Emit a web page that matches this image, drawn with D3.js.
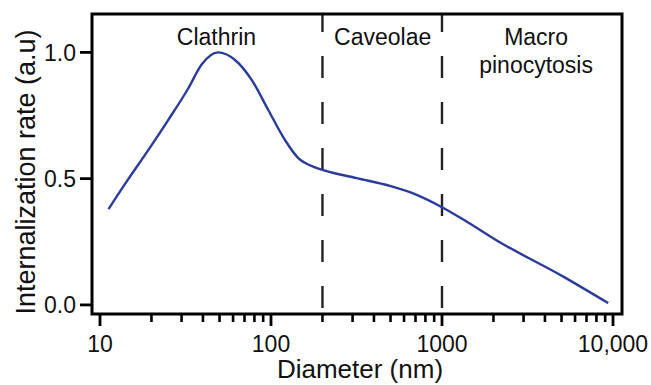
<!DOCTYPE html>
<html>
<head>
<meta charset="utf-8">
<script src="https://cdn.jsdelivr.net/npm/d3@7/dist/d3.min.js"></script>
<style>
  html, body { margin: 0; padding: 0; background: #ffffff; }
  svg { display: block; }
  text { font-family: "Liberation Sans", Arial, Helvetica, sans-serif; fill: #111; }
</style>
</head>
<body>
<svg id="chart" width="651" height="385"></svg>
<script>
// ---- data ----
const diameters = [11.2, 14.6, 19.2, 25.1, 32.8, 39.3, 49, 61.6, 77.1, 96.4, 120.7, 144.5, 180.8, 202, 317, 496, 711, 1000, 1333, 2090, 5120, 9380];
const rates     = [0.379, 0.497, 0.614, 0.733, 0.857, 0.952, 1.0, 0.970, 0.891, 0.772, 0.653, 0.581, 0.545, 0.534, 0.502, 0.471, 0.436, 0.387, 0.338, 0.255, 0.112, 0.007];
const boundaries = [200, 1000];
const regionLabels = [["Clathrin"], ["Caveolae"], ["Macro", "pinocytosis"]];
const regionCenters = [48, 450, 3550];
const xTickValues = [10, 100, 1000, 10000];
const xTickLabels = ["10", "100", "1000", "10,000"];
const yTickValues = [0, 0.5, 1.0];
const yTickLabels = ["0.0", "0.5", "1.0"];
const xTitle = "Diameter (nm)";
const yTitle = "Internalization rate (a.u)";

// ---- layout ----
const svg = d3.select("#chart");
const L = 92, R = 622, T = 14, B = 314;

const x = d3.scaleLog().domain([8.98, 11290]).range([L, R]);
const y = d3.scaleLinear().domain([-0.036, 1.152]).range([B, T]);

// dashed boundaries
svg.selectAll("line.bound").data(boundaries).enter().append("line")
  .attr("class", "bound")
  .attr("x1", d => x(d)).attr("x2", d => x(d))
  .attr("y1", B - 6).attr("y2", T)
  .attr("stroke", "#222").attr("stroke-width", 2.4)
  .attr("stroke-dasharray", "22,24");

// curve
const pts = diameters.map((d, i) => [d, rates[i]]);
const line = d3.line().x(d => x(d[0])).y(d => y(d[1])).curve(d3.curveMonotoneX);
svg.append("path").datum(pts)
  .attr("d", line)
  .attr("fill", "none")
  .attr("stroke", "#2b3b9b")
  .attr("stroke-width", 2.4)
  .attr("stroke-linejoin", "round");

// frame
svg.append("rect")
  .attr("x", L).attr("y", T).attr("width", R - L).attr("height", B - T)
  .attr("fill", "none").attr("stroke", "#000").attr("stroke-width", 3);

// x axis
const minorTicks = [];
[10, 100, 1000].forEach(dec => { for (let k = 2; k <= 9; k++) minorTicks.push(dec * k); });
const xAxisG = svg.append("g").attr("transform", `translate(0,${B})`);
xAxisG.selectAll("line.minor").data(minorTicks).enter().append("line")
  .attr("x1", d => x(d)).attr("x2", d => x(d))
  .attr("y1", 0).attr("y2", 8)
  .attr("stroke", "#000").attr("stroke-width", 2.6);
xAxisG.selectAll("line.major").data(xTickValues).enter().append("line")
  .attr("x1", d => x(d)).attr("x2", d => x(d))
  .attr("y1", 0).attr("y2", 12)
  .attr("stroke", "#000").attr("stroke-width", 2.8);
xAxisG.selectAll("text").data(xTickValues).enter().append("text")
  .attr("x", d => x(d)).attr("y", 38)
  .attr("text-anchor", "middle")
  .attr("font-size", 23)
  .text((d, i) => xTickLabels[i]);

// y axis
const yAxisG = svg.append("g").attr("transform", `translate(${L},0)`);
yAxisG.selectAll("line").data(yTickValues).enter().append("line")
  .attr("x1", -12).attr("x2", 0)
  .attr("y1", d => y(d)).attr("y2", d => y(d))
  .attr("stroke", "#000").attr("stroke-width", 2.8);
yAxisG.selectAll("text").data(yTickValues).enter().append("text")
  .attr("x", -16).attr("y", d => y(d))
  .attr("dy", "0.36em")
  .attr("text-anchor", "end")
  .attr("font-size", 23)
  .text((d, i) => yTickLabels[i]);

// titles
svg.append("text")
  .attr("x", 360).attr("y", 378)
  .attr("text-anchor", "middle")
  .attr("font-size", 26)
  .text(xTitle);
svg.append("text")
  .attr("transform", "translate(35,172) rotate(-90)")
  .attr("text-anchor", "middle")
  .attr("font-size", 27)
  .text(yTitle);

// region labels
regionLabels.forEach((lines, i) => {
  const t = svg.append("text")
    .attr("text-anchor", "middle")
    .attr("font-size", 23);
  lines.forEach((s, j) => {
    t.append("tspan").attr("x", x(regionCenters[i])).attr("y", 45 + j * 28).text(s);
  });
});
</script>
</body>
</html>
